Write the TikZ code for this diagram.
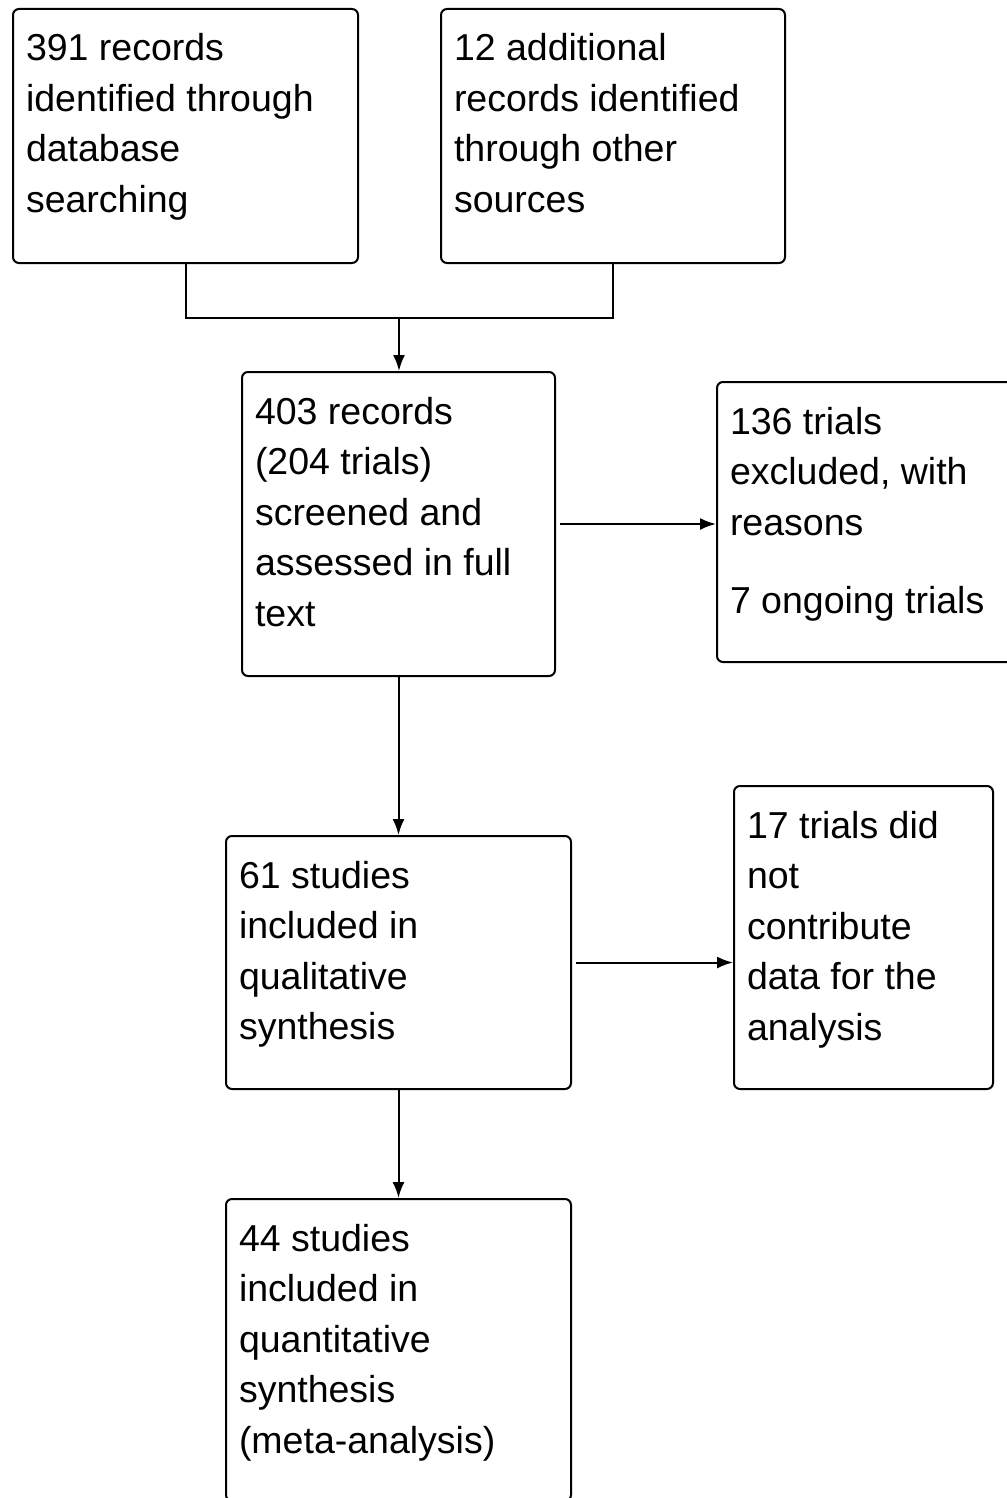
\documentclass[tikz,border=0pt]{standalone}
\usepackage{fontspec}
\setmainfont{Liberation Sans}
\usetikzlibrary{arrows.meta,calc}
\newcommand\bxt[3]{\parbox[c][#2][t]{#1}{\raggedright\fontsize{37.5pt}{50.5pt}\selectfont\rule{0pt}{52pt}#3}}
\begin{document}
\begin{tikzpicture}[x=1pt,y=-1pt,
  box/.style={draw, line width=2pt, rounded corners=6pt, inner xsep=13pt, inner ysep=0pt, anchor=north west},
  conn/.style={line width=2pt},
  arr/.style={conn, -{Latex[length=16pt,width=12pt]}}]
\useasboundingbox[fill=white] (0,0) rectangle (1006,1498);
\node[box] (A) at (12,8) {\bxt{319pt}{254pt}{391 records\\identified through\\database\\searching}};
\node[box] (B) at (440,8) {\bxt{318pt}{254pt}{12 additional\\records identified\\through other\\sources}};
\node[box] (C) at (241,371) {\bxt{287pt}{304pt}{403 records\\(204 trials)\\screened and\\assessed in full\\text}};
\node[box] (D) at (716,381) {\bxt{270pt}{280pt}{136 trials\\excluded, with\\reasons\\[28pt]7 ongoing trials}};
\node[box] (E) at (225,835) {\bxt{319pt}{253pt}{61 studies\\included in\\qualitative\\synthesis}};
\node[box] (F) at (733,785) {\bxt{233pt}{303pt}{17 trials did\\not\\contribute\\data for the\\analysis}};
\node[box] (G) at (225,1198) {\bxt{319pt}{302pt}{44 studies\\included in\\quantitative\\synthesis\\(meta-analysis)}};
\coordinate (J) at (399,318);
\draw[conn] (A.south) |- (J) -| (B.south);
\draw[arr] (J) -- (J |- C.north);
\draw[arr] ([xshift=4pt]C.east) -- (C.east -| D.west);
\draw[arr] (C.south) -- (E.north);
\draw[arr] ([xshift=4pt]E.east) -- (E.east -| F.west);
\draw[arr] (E.south) -- (G.north);
\end{tikzpicture}
\end{document}
